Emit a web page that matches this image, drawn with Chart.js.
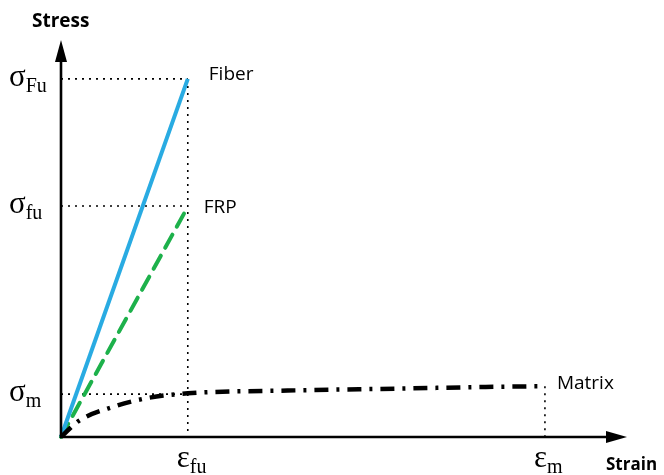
<!DOCTYPE html>
<html>
<head>
<meta charset="utf-8">
<script src="https://cdn.jsdelivr.net/npm/chart.js@4/dist/chart.umd.min.js"></script>
<style>
  body { margin: 0; background: #fff; }
  #wrap { width: 664px; height: 475px; }
</style>
</head>
<body>
<div id="wrap"><canvas id="myChart" width="664" height="475"></canvas></div>
<script>
// values in axis units (0..100 on both axes)
var epsFu = 22.4, epsM = 85.5;
var sigFu = 90.2, sigfu = 58.2, sigM = 10.8;

var fiberStrain = [0, epsFu];
var fiberStress = [0, sigFu];

var frpStrain = [0, epsFu];
var frpStress = [0, 58.0];

var matrixStrain = [0, 1.6, 3.4, 9.2, 15.2, 22.4, 40, 60, 75, 85.5];
var matrixStress = [0, 2.2, 4.3, 7.6, 9.8, 11.0, 11.7, 12.2, 12.6, 12.8];

var yTickValues = [sigFu, sigfu, sigM];
var yTickLabels = [["σ", "Fu"], ["σ", "fu"], ["σ", "m"]];
var xTickValues = [epsFu, epsM];
var xTickLabels = [["ε", "fu"], ["ε", "m"]];

var seriesNames = ["Fiber", "FRP", "Matrix"];

function pts(xs, ys) {
  return xs.map(function (x, i) { return { x: x, y: ys[i] }; });
}

function guide(data) {
  return {
    data: data, borderColor: "#000", borderWidth: 1.6, borderDash: [2, 5],
    pointRadius: 0, fill: false, clip: false, order: 5
  };
}

var axesPlugin = {
  id: "axesPlugin",
  afterDatasetsDraw: function (chart) {
    var ctx = chart.ctx;
    var xs = chart.scales.x, ys = chart.scales.y;
    var x0 = xs.getPixelForValue(0), y0 = ys.getPixelForValue(0);
    var xEnd = xs.getPixelForValue(100), yEnd = ys.getPixelForValue(100);
    ctx.save();
    ctx.strokeStyle = "#000";
    ctx.fillStyle = "#000";
    ctx.lineWidth = 2.6;
    ctx.beginPath();
    ctx.moveTo(x0, y0 + 1);
    ctx.lineTo(x0, yEnd + 15);
    ctx.moveTo(x0 - 1, y0);
    ctx.lineTo(xEnd - 15, y0);
    ctx.stroke();
    // arrow heads
    ctx.beginPath();
    ctx.moveTo(x0, yEnd);
    ctx.lineTo(x0 - 6, yEnd + 22);
    ctx.lineTo(x0 + 6, yEnd + 22);
    ctx.closePath();
    ctx.fill();
    ctx.beginPath();
    ctx.moveTo(xEnd, y0);
    ctx.lineTo(xEnd - 21, y0 - 6);
    ctx.lineTo(xEnd - 21, y0 + 6);
    ctx.closePath();
    ctx.fill();

    // axis titles
    ctx.font = "bold 19px 'Open Sans'";
    ctx.textBaseline = "alphabetic";
    ctx.textAlign = "left";
    ctx.fillText("Stress", 32, 27);
    ctx.font = "bold 17px 'Open Sans'";
    ctx.fillText("Strain", 606, 470);

    // y tick labels
    yTickValues.forEach(function (v, i) {
      var py = ys.getPixelForValue(v);
      ctx.font = "31px 'Liberation Serif'";
      ctx.fillText(yTickLabels[i][0], 9, py + 7);
      var w = ctx.measureText(yTickLabels[i][0]).width;
      ctx.font = "20px 'Liberation Serif'";
      ctx.fillText(yTickLabels[i][1], 9 + w, py + 13);
    });
    // x tick labels
    xTickValues.forEach(function (v, i) {
      var px = xs.getPixelForValue(v);
      ctx.font = "31px 'Liberation Serif'";
      ctx.fillText(xTickLabels[i][0], px - 11, y0 + 30);
      var w = ctx.measureText(xTickLabels[i][0]).width;
      ctx.font = "20px 'Liberation Serif'";
      ctx.fillText(xTickLabels[i][1], px - 11 + w, y0 + 36);
    });

    // series labels
    ctx.font = "19px 'Open Sans'";
    ctx.fillText(seriesNames[0], xs.getPixelForValue(epsFu) + 21, ys.getPixelForValue(sigFu) + 1);
    ctx.fillText(seriesNames[1], xs.getPixelForValue(epsFu) + 16, ys.getPixelForValue(sigfu) + 7);
    ctx.fillText(seriesNames[2], xs.getPixelForValue(epsM) + 12, ys.getPixelForValue(sigM) - 5);
    ctx.restore();
  }
};

new Chart(document.getElementById("myChart"), {
  type: "line",
  data: {
    datasets: [
      guide([{ x: 0, y: sigFu }, { x: epsFu, y: sigFu }]),
      guide([{ x: epsFu, y: sigFu }, { x: epsFu, y: 0 }]),
      guide([{ x: 0, y: sigfu }, { x: epsFu, y: sigfu }]),
      guide([{ x: 0, y: sigM }, { x: epsFu, y: sigM }]),
      guide([{ x: epsM, y: matrixStress[matrixStress.length - 1] }, { x: epsM, y: 0 }]),
      {
        label: seriesNames[1], data: pts(frpStrain, frpStress),
        borderColor: "#1db14b", borderWidth: 4, borderDash: [15, 9], borderCapStyle: "round",
        pointRadius: 0, clip: false, order: 2
      },
      {
        label: seriesNames[0], data: pts(fiberStrain, fiberStress),
        borderColor: "#29abe2", borderWidth: 4, pointRadius: 0, clip: false, order: 1
      },
      {
        label: seriesNames[2], data: pts(matrixStrain, matrixStress),
        borderColor: "#000", borderWidth: 4.5, borderDash: [14, 8, 3, 8],
        cubicInterpolationMode: "monotone", pointRadius: 0, clip: false, order: 0
      }
    ]
  },
  options: {
    responsive: false,
    animation: false,
    layout: { padding: { left: 61, right: 37, top: 40, bottom: 38 } },
    plugins: { legend: { display: false }, tooltip: { enabled: false } },
    scales: {
      x: { type: "linear", min: 0, max: 100, display: false },
      y: { type: "linear", min: 0, max: 100, display: false }
    }
  },
  plugins: [axesPlugin]
});
</script>
</body>
</html>
